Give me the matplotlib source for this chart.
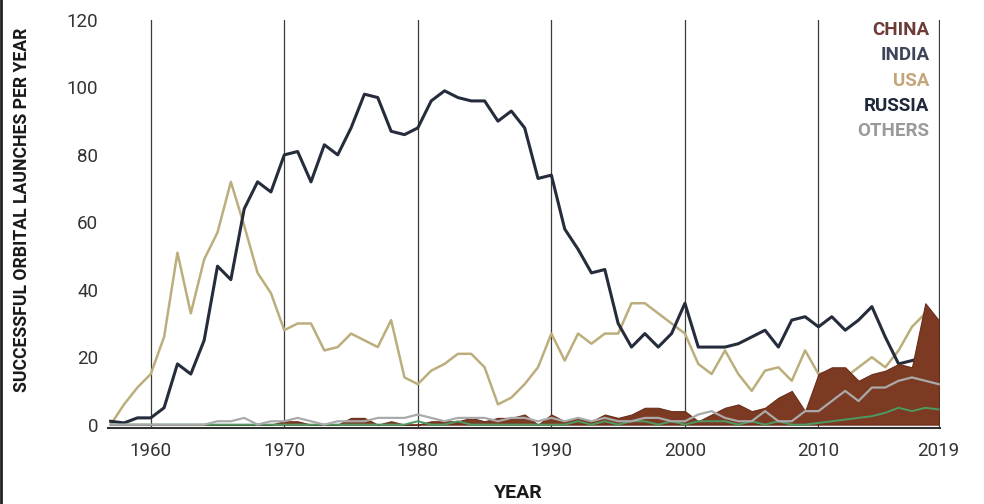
"""Successful orbital launches per year, by country (1957-2019)."""

import matplotlib
matplotlib.use("Agg")
import matplotlib.pyplot as plt
from matplotlib.lines import Line2D
import numpy as np

years = np.arange(1957, 2020)

russia = ([1, 0.5, 2]
          + [2, 5, 18, 15, 25, 47, 43, 64, 72, 69]
          + [80, 81, 72, 83, 80, 88, 98, 97, 87, 86]
          + [88, 96, 99, 97, 96, 96, 90, 93, 88, 73]
          + [74, 58, 52, 45, 46, 30, 23, 27, 23, 27]
          + [36, 23, 23, 23, 24, 26, 28, 23, 31, 32]
          + [29, 32, 28, 31, 35, 26, 18, 19, 20, 22])

usa = ([0, 6, 11]
       + [15, 26, 51, 33, 49, 57, 72, 59, 45, 39]
       + [28, 30, 30, 22, 23, 27, 25, 23, 31, 14]
       + [12, 16, 18, 21, 21, 17, 6, 8, 12, 17]
       + [27, 19, 27, 24, 27, 27, 36, 36, 33, 30]
       + [27, 18, 15, 22, 15, 10, 16, 17, 13, 22]
       + [15, 16, 14, 17, 20, 17, 22, 29, 33, 22])

china = ([0, 0, 0]
         + [0, 0, 0, 0, 0, 0, 0, 0, 0, 0]
         + [1, 1, 0, 0, 0, 2, 2, 0, 1, 0]
         + [0, 1, 1, 1, 2, 1, 2, 2, 3, 0]
         + [3, 1, 2, 1, 3, 2, 3, 5, 5, 4]
         + [4, 1, 3, 5, 6, 4, 5, 8, 10, 4]
         + [15, 17, 17, 13, 15, 16, 18, 17, 36, 31])

india = ([0, 0, 0]
         + [0] * 10
         + [0] * 10
         + [1, 0, 0, 1, 0, 0, 0, 0, 0, 0]
         + [0, 0, 1, 0, 1, 0, 1, 1, 0, 1]
         + [0, 1, 1, 1, 0, 1, 0, 1, 0, 0]
         + [0.5, 1, 1.5, 2, 2.5, 3.5, 5, 4, 5, 4.5])

others = ([0, 0, 0]
          + [0, 0, 0, 0, 0, 1, 1, 2, 0, 1]
          + [1, 2, 1, 0, 1, 1, 1, 2, 2, 2]
          + [3, 2, 1, 2, 2, 2, 1, 2, 2, 1]
          + [2, 1, 2, 1, 2, 1, 1, 2, 2, 1]
          + [1, 3, 4, 2, 1, 1, 4, 1, 1, 4]
          + [4, 7, 10, 7, 11, 11, 13, 14, 13, 12])

legend_names = ["CHINA", "INDIA", "USA", "RUSSIA", "OTHERS"]
legend_colors = ["#6e3c38", "#3c4658", "#c4a57a", "#1f283a", "#9a9a9a"]
grid_years = [1960, 1970, 1980, 1990, 2000, 2010, 2019]
y_ticks = [0, 20, 40, 60, 80, 100, 120]

plt.rcParams["font.family"] = ["Roboto", "DejaVu Sans"]

fig = plt.figure(figsize=(9.84, 5.04), dpi=100)
ax = fig.add_axes([108 / 984, 1 - 428 / 504, 832 / 984, 408 / 504])

for gy in grid_years:
    ax.axvline(gy, color="#3a3a3a", lw=0.9, zorder=1)

ax.plot(years, usa, color="#bcae7c", lw=1.8, zorder=2)
ax.plot(years, russia, color="#252c3c", lw=2.2, zorder=3)
ax.fill_between(years, 0, china, color="#7d3a22", lw=0.8, edgecolor="#6a2e1a", zorder=4)
ax.plot(years, india, color="#4a9a62", lw=1.4, zorder=5)
ax.plot(years, others, color="#aaaaaa", lw=1.6, zorder=6)

ax.set_xlim(1956.8, 2019.1)
ax.set_ylim(-1, 120)
ax.set_xticks(grid_years)
ax.set_yticks(y_ticks)
ax.tick_params(axis="both", length=0, labelsize=13.5, labelcolor="#333333")
ax.tick_params(axis="x", pad=10)
ax.tick_params(axis="y", pad=7)
for side in ["left", "right", "top"]:
    ax.spines[side].set_visible(False)
ax.spines["bottom"].set_color("#333333")
ax.spines["bottom"].set_linewidth(1.5)

legend_y = [117, 109.5, 102, 94.5, 87]
for name, col, ly in zip(legend_names, legend_colors, legend_y):
    ax.text(2018.3, ly, name, color=col, fontsize=13.5, fontweight="bold",
            ha="right", va="center", zorder=7)

fig.text(518 / 984, 1 - 493 / 504, "YEAR", fontsize=14, fontweight="bold",
         color="#1a1a1a", ha="center", va="center")
fig.text(22 / 984, 1 - 210 / 504, "SUCCESSFUL ORBITAL LAUNCHES PER YEAR",
         fontsize=12.7, fontweight="bold", color="#1a1a1a", rotation=90,
         ha="center", va="center")

fig.add_artist(Line2D([0.001, 0.001], [0, 1], transform=fig.transFigure,
                      color="#222222", lw=2))

fig.savefig("out.png", dpi=100)
